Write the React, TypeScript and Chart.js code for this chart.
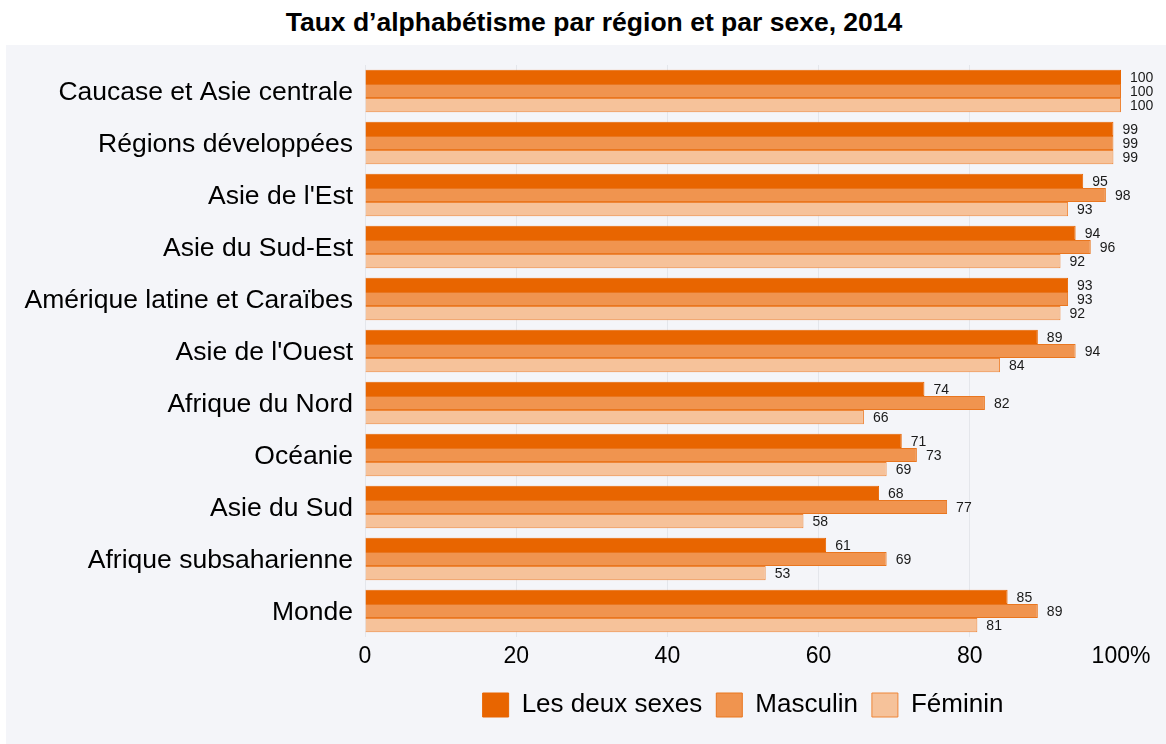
import React, { useEffect, useRef } from "react";
import { Chart, registerables } from "chart.js";

Chart.register(...registerables);

const TITLE = "Taux d’alphabétisme par région et par sexe, 2014";

const categories = [
  "Caucase et Asie centrale",
  "Régions développées",
  "Asie de l'Est",
  "Asie du Sud-Est",
  "Amérique latine et Caraïbes",
  "Asie de l'Ouest",
  "Afrique du Nord",
  "Océanie",
  "Asie du Sud",
  "Afrique subsaharienne",
  "Monde",
];

const seriesNames = ["Les deux sexes", "Masculin", "Féminin"];

const bothSexes = [100, 99, 95, 94, 93, 89, 74, 71, 68, 61, 85];
const male = [100, 99, 98, 96, 93, 94, 82, 73, 77, 69, 89];
const female = [100, 99, 93, 92, 92, 84, 66, 69, 58, 53, 81];

const xTicks = [0, 20, 40, 60, 80, 100];

const FONT = "'Liberation Sans', Arial, sans-serif";

const valueLabels = {
  id: "valueLabels",
  afterDatasetsDraw(chart: any) {
    const ctx = chart.ctx;
    ctx.save();
    ctx.font = `14px ${FONT}`;
    ctx.fillStyle = "#1a1a1a";
    ctx.textAlign = "left";
    ctx.textBaseline = "middle";
    chart.data.datasets.forEach((ds: any, i: number) => {
      const meta = chart.getDatasetMeta(i);
      if (meta.hidden) return;
      meta.data.forEach((bar: any, j: number) => {
        ctx.fillText(String(ds.data[j]), bar.x + 9, bar.y + 1);
      });
    });
    ctx.restore();
  },
};

export default function App() {
  const canvasRef = useRef<HTMLCanvasElement | null>(null);

  useEffect(() => {
    document.body.style.margin = "0";
    const canvas = canvasRef.current;
    if (!canvas) return;
    const chart = new Chart(canvas, {
      type: "bar",
      data: {
        labels: categories,
        datasets: [
          {
            label: seriesNames[0],
            data: bothSexes,
            backgroundColor: "#E86500",
            borderColor: "#E86500",
            borderWidth: 1,
          },
          {
            label: seriesNames[1],
            data: male,
            backgroundColor: "#F0944F",
            borderColor: "#E9761F",
            borderWidth: 1,
          },
          {
            label: seriesNames[2],
            data: female,
            backgroundColor: "#F6C29A",
            borderColor: "#EE8638",
            borderWidth: 1,
          },
        ],
      },
      options: {
        indexAxis: "y",
        animation: false,
        responsive: false,
        maintainAspectRatio: false,
        categoryPercentage: 0.82,
        barPercentage: 1.0,
        layout: { padding: { top: 20, right: 45, bottom: 16, left: 0 } },
        scales: {
          x: {
            min: 0,
            max: 100,
            afterFit: (s: any) => {
              s.height = 41;
            },
            afterBuildTicks: (s: any) => {
              s.ticks = xTicks.map((v) => ({ value: v }));
            },
            ticks: {
              padding: 6,
              color: "#000",
              font: { family: FONT, size: 23 },
              callback: (v: any) => (Number(v) === 100 ? "100%" : String(v)),
            },
            grid: {
              color: (c: any) =>
                c.tick && c.tick.value === 100 ? "rgba(0,0,0,0)" : "#e4e6eb",
              drawTicks: false,
            },
            border: { display: false },
          },
          y: {
            afterFit: (s: any) => {
              s.width = 359;
              s.paddingTop = 0;
              s.paddingBottom = 0;
            },
            ticks: {
              padding: 12,
              labelOffset: 2,
              color: "#000",
              font: { family: FONT, size: 26.5 },
            },
            grid: { display: false, drawTicks: false },
            border: { display: false },
          },
        },
        plugins: {
          legend: {
            position: "bottom",
            fullSize: false,
            labels: {
              boxWidth: 26,
              boxHeight: 24,
              padding: 14,
              color: "#000",
              font: { family: FONT, size: 26 },
            },
          },
          title: { display: false },
          tooltip: { enabled: false },
        },
      },
      plugins: [valueLabels],
    });
    return () => chart.destroy();
  }, []);

  return (
    <div
      style={{
        position: "relative",
        width: 1166,
        height: 744,
        background: "#ffffff",
        overflow: "hidden",
      }}
    >
      <div
        style={{
          position: "absolute",
          left: 0,
          top: 0,
          width: 1166,
          paddingLeft: 22,
          boxSizing: "border-box",
          height: 45,
          lineHeight: "45px",
          textAlign: "center",
          fontFamily: FONT,
          fontWeight: "bold",
          fontSize: 26.5,
          color: "#000",
        }}
      >
        {TITLE}
      </div>
      <div
        style={{
          position: "absolute",
          left: 6,
          top: 45,
          width: 1160,
          height: 699,
          background: "#f4f5f9",
        }}
      >
        <canvas ref={canvasRef} width={1160} height={699} />
      </div>
    </div>
  );
}
